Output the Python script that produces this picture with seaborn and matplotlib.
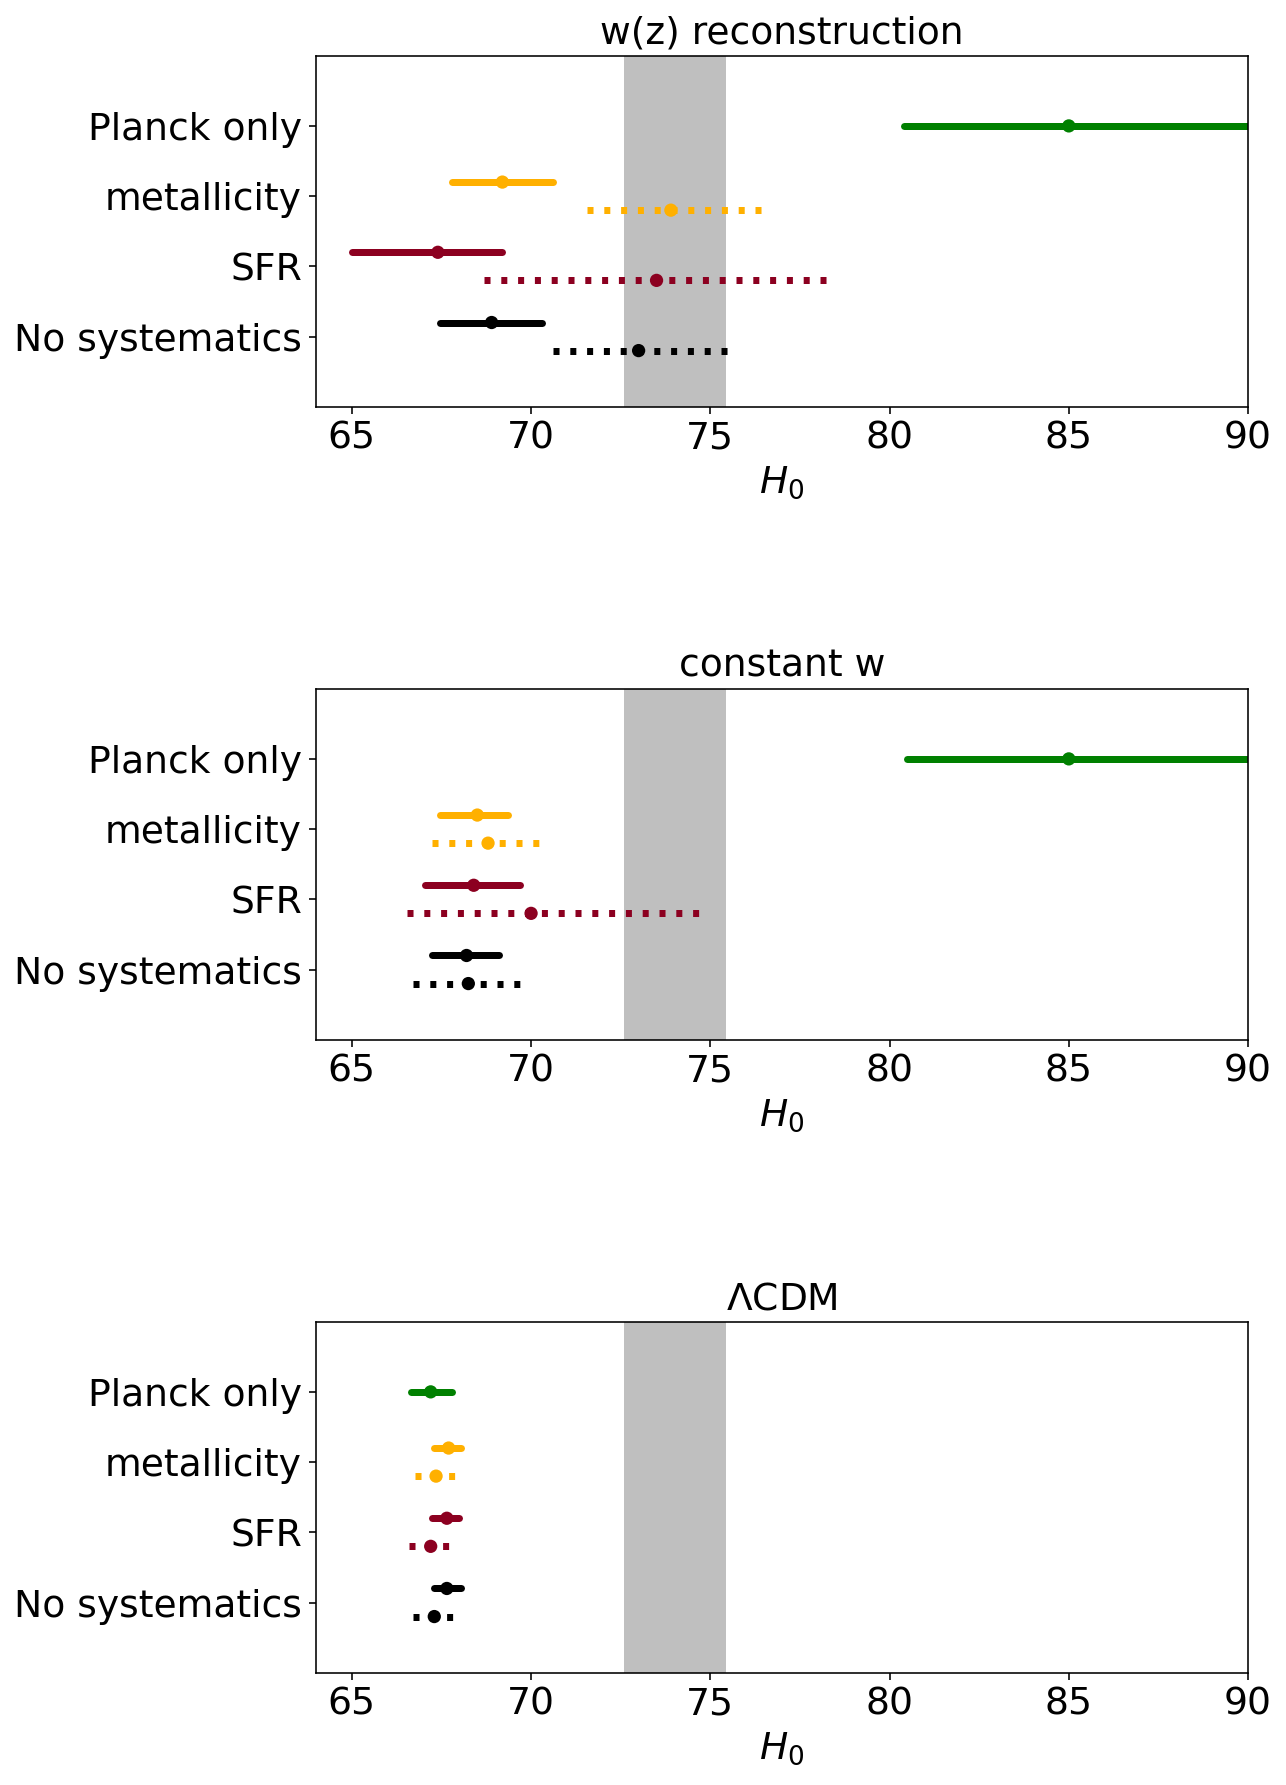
#!/usr/bin/env python3
"""H0 constraints for three dark energy models, drawn as horizontal intervals"""

import numpy as np
import pandas as pd
import seaborn as sns
import matplotlib
matplotlib.use("Agg")
import matplotlib.pyplot as plt

# DATA
Labels = ["No systematics", "SFR", "metallicity", "Planck only"]   # bottom -> top
Colors = {"No systematics": "black", "SFR": "#8c0020",
          "metallicity": "#ffb000", "Planck only": "green"}
Panels = ["w(z) reconstruction", "constant w", r"$\Lambda$CDM"]

# solid intervals (lo, centre, hi) per label, one list per panel
SolidLo = [[67.45, 65.0, 67.8, 80.4], [67.25, 67.05, 67.45, 80.5], [67.3, 67.25, 67.3, 66.65]]
SolidMid = [[68.9, 67.4, 69.2, 85.0], [68.2, 68.4, 68.5, 85.0], [67.65, 67.65, 67.7, 67.2]]
SolidHi = [[70.3, 69.2, 70.6, 92.0], [69.1, 69.7, 69.35, 92.0], [68.05, 68.0, 68.05, 67.8]]

# dotted intervals (no Planck-only entry)
DottedLo = [[70.6, 68.7, 71.55], [66.7, 66.55, 67.25], [66.7, 66.6, 66.75]]
DottedMid = [[73.0, 73.5, 73.9], [68.25, 70.0, 68.8], [67.3, 67.2, 67.35]]
DottedHi = [[75.5, 78.5, 76.45], [69.7, 74.7, 70.3], [67.85, 67.75, 67.9]]

# local H0 band
BandLo, BandHi = 72.6, 75.45

# BUILD LONG-FORM TABLES
rows, pts = [], []
for p, panel in enumerate(Panels):
    for i, lab in enumerate(Labels):
        off = 0.0 if lab == "Planck only" else 0.2
        seg = f"{p}-{lab}-solid"
        for x in (SolidLo[p][i], SolidHi[p][i]):
            rows.append(dict(panel=panel, label=lab, kind="solid", seg=seg, H0=x, y=i + off))
        pts.append(dict(panel=panel, label=lab, kind="solid", H0=SolidMid[p][i], y=i + off))
        if lab == "Planck only":
            continue
        seg = f"{p}-{lab}-dotted"
        for x in (DottedLo[p][i], DottedHi[p][i]):
            rows.append(dict(panel=panel, label=lab, kind="dotted", seg=seg, H0=x, y=i - 0.2))
        pts.append(dict(panel=panel, label=lab, kind="dotted", H0=DottedMid[p][i], y=i - 0.2))
Lines = pd.DataFrame(rows)
Points = pd.DataFrame(pts)

# STYLE
sns.set_style("ticks", {"axes.edgecolor": "black", "xtick.color": "black",
                        "ytick.color": "black", "text.color": "black",
                        "axes.labelcolor": "black"})
plt.rcParams["font.family"] = ["DejaVu Sans"]
FS = 18.8

fig, axes = plt.subplots(3, 1, figsize=(1286 / 144, 1785 / 144), dpi=144)
fig.subplots_adjust(left=0.2457, right=0.9705, top=0.9688, bottom=0.0629, hspace=0.803)

for ax, panel in zip(axes, Panels):
    ax.axvspan(BandLo, BandHi, color="grey", alpha=0.5, lw=0, zorder=0)
    sns.lineplot(data=Lines[Lines.panel == panel], x="H0", y="y",
                 hue="label", style="kind", units="seg", estimator=None,
                 palette=Colors, dashes={"solid": "", "dotted": (0.86, 1.54)},
                 style_order=["solid", "dotted"],
                 linewidth=3.5, legend=False, ax=ax)
    sns.scatterplot(data=Points[Points.panel == panel], x="H0", y="y",
                    hue="label", palette=Colors, s=44, linewidth=0,
                    legend=False, ax=ax, zorder=3)
    ax.set_xlim(64, 90)
    ax.set_ylim(-1, 4)
    ax.set_xticks([65, 70, 75, 80, 85, 90])
    ax.set_yticks(np.arange(len(Labels)))
    ax.set_yticklabels(Labels)
    ax.tick_params(labelsize=FS)
    ax.set_xlabel(r"$H_0$", fontsize=FS)
    ax.set_ylabel("")
    ax.set_title(panel, fontsize=FS)
    for s in ax.spines.values():
        s.set_visible(True)

fig.savefig("out.png", dpi=144)
